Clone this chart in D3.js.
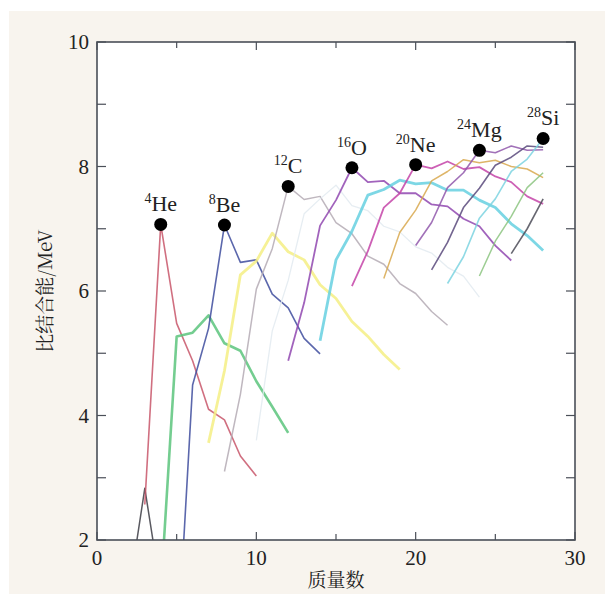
<!DOCTYPE html>
<html>
<head>
<meta charset="utf-8">
<script src="https://cdn.jsdelivr.net/npm/d3@7"></script>
<style>
  body { margin: 0; background: #fff; }
</style>
</head>
<body>
<svg id="chart" width="605" height="594"></svg>
<script>
// Binding energy per nucleon (MeV) of isotopic chains, indexed from the first mass number
const hStart = 2,  hValues  = [1.15, 2.83, 1.2];
const heStart = 3, heValues = [2.57, 7.07, 5.48, 4.88, 4.10, 3.93, 3.35, 3.03];
const liStart = 4, liValues = [1.15, 5.27, 5.33, 5.61, 5.16, 5.04, 4.55, 4.14, 3.72];
const beStart = 5, beValues = [0.0, 4.49, 5.40, 7.06, 6.46, 6.50, 5.95, 5.73, 5.24, 4.99];
const bStart = 7,  bValues  = [3.56, 4.72, 6.26, 6.48, 6.93, 6.63, 6.50, 6.10, 5.88, 5.51, 5.27, 4.98, 4.74];
const cStart = 8,  cValues  = [3.10, 4.34, 6.03, 6.68, 7.68, 7.47, 7.52, 7.10, 6.92, 6.56, 6.43, 6.12, 5.96, 5.67, 5.45];
const nStart = 10, nValues  = [3.60, 5.36, 6.17, 7.24, 7.48, 7.70, 7.37, 7.29, 7.04, 6.95, 6.71, 6.61, 6.38, 6.24, 5.90];
const oStart = 12, oValues  = [4.88, 5.81, 7.05, 7.46, 7.98, 7.75, 7.77, 7.57, 7.57, 7.39, 7.36, 7.16, 7.04, 6.73, 6.49];
const fStart = 14, fValues  = [5.20, 6.50, 6.96, 7.54, 7.63, 7.78, 7.72, 7.74, 7.62, 7.62, 7.46, 7.34, 7.08, 6.89, 6.65];
const neStart = 16, neValues = [6.08, 6.64, 7.34, 7.57, 8.03, 7.97, 8.08, 7.96, 7.99, 7.84, 7.75, 7.52, 7.40];
const naStart = 18, naValues = [6.20, 6.94, 7.30, 7.77, 7.92, 8.11, 8.06, 8.10, 8.00, 7.96, 7.82];
const mgStart = 20, mgValues = [6.73, 7.10, 7.66, 7.90, 8.26, 8.22, 8.33, 8.26, 8.27];
const alStart = 21, alValues = [6.34, 6.78, 7.34, 7.65, 8.02, 8.15, 8.33, 8.31];
const siStart = 22, siValues = [6.12, 6.55, 7.17, 7.48, 7.92, 8.12, 8.45];
const pStart = 24, pValues = [6.24, 6.80, 7.20, 7.66, 7.90];
const sStart = 26, sValues = [6.60, 7.00, 7.48];

const chainColors = ['#3c3c44', '#c8566a', '#5cc47c', '#3e4c9e', '#f4ee84', '#b4aab4', '#e2eaf0',
                     '#9048b0', '#66d0e0', '#c444a8', '#d8a84e', '#9058ac', '#5a4a7c', '#7cd4e0', '#8cc480', '#4c4c58'];
const chainWidths = [1.5, 1.6, 2.6, 1.6, 2.8, 1.5, 1.3, 1.8, 2.8, 1.8, 1.5, 1.6, 1.6, 1.6, 1.5, 1.6];

const markedNames = ['He', 'Be', 'C', 'O', 'Ne', 'Mg', 'Si'];
const markedMass = [4, 8, 12, 16, 20, 24, 28];
const markedEnergy = [7.07, 7.06, 7.68, 7.98, 8.03, 8.26, 8.45];

const xTicks = [0, 5, 10, 15, 20, 25, 30];
const xLabels = [0, 10, 20, 30];
const yTicks = [2, 3, 4, 5, 6, 7, 8, 9, 10];
const yLabels = [2, 4, 6, 8, 10];

const chains = [
  [hStart, hValues], [heStart, heValues], [liStart, liValues], [beStart, beValues],
  [bStart, bValues], [cStart, cValues], [nStart, nValues], [oStart, oValues],
  [fStart, fValues], [neStart, neValues], [naStart, naValues], [mgStart, mgValues],
  [alStart, alValues], [siStart, siValues], [pStart, pValues], [sStart, sValues]
].map(([start, vals]) => vals.map((v, i) => ({ a: start + i, e: v })));

const serif = '"Liberation Serif", "Times New Roman", "DejaVu Serif", serif';
const cjk = '"Noto Serif CJK SC", "Noto Sans CJK SC", sans-serif';

const svg = d3.select('#chart');
const W = 605, H = 594;
const plot = { left: 97, right: 575, top: 42, bottom: 540 };

// page background
svg.append('rect').attr('x', 9).attr('y', 11).attr('width', W - 9).attr('height', H - 11).attr('fill', '#f8f4ee');
svg.append('rect')
  .attr('x', plot.left).attr('y', plot.top)
  .attr('width', plot.right - plot.left).attr('height', plot.bottom - plot.top)
  .attr('fill', '#fff');

const x = d3.scaleLinear().domain([0, 30]).range([plot.left, plot.right]);
const y = d3.scaleLinear().domain([2, 10]).range([plot.bottom, plot.top]);

svg.append('clipPath').attr('id', 'clip')
  .append('rect')
  .attr('x', plot.left).attr('y', plot.top)
  .attr('width', plot.right - plot.left).attr('height', plot.bottom - plot.top);

const line = d3.line().x(d => x(d.a)).y(d => y(d.e));

svg.append('g').attr('clip-path', 'url(#clip)')
  .selectAll('path')
  .data(chains)
  .join('path')
  .attr('d', line)
  .attr('fill', 'none')
  .attr('stroke', (d, i) => chainColors[i])
  .attr('stroke-width', (d, i) => chainWidths[i])
  .attr('stroke-linejoin', 'round')
  .attr('opacity', 0.85);

// frame and inward ticks on all sides
const axisColor = '#4a4f58';
svg.append('rect')
  .attr('x', plot.left).attr('y', plot.top)
  .attr('width', plot.right - plot.left).attr('height', plot.bottom - plot.top)
  .attr('fill', 'none').attr('stroke', axisColor).attr('stroke-width', 1.6);

const ticks = svg.append('g').attr('stroke', axisColor).attr('stroke-width', 1.2);
xTicks.forEach(t => {
  const len = t % 10 === 0 ? 8 : 6;
  ticks.append('line').attr('x1', x(t)).attr('x2', x(t)).attr('y1', plot.bottom).attr('y2', plot.bottom - len);
  ticks.append('line').attr('x1', x(t)).attr('x2', x(t)).attr('y1', plot.top).attr('y2', plot.top + len);
});
yTicks.forEach(t => {
  ticks.append('line').attr('x1', plot.left).attr('x2', plot.left + 9).attr('y1', y(t)).attr('y2', y(t));
  ticks.append('line').attr('x1', plot.right).attr('x2', plot.right - 9).attr('y1', y(t)).attr('y2', y(t));
});

svg.append('g').selectAll('text')
  .data(xLabels).join('text')
  .attr('x', d => x(d)).attr('y', plot.bottom + 25)
  .attr('text-anchor', 'middle').attr('font-size', 21)
  .attr('font-family', serif).attr('fill', '#222')
  .text(d => d);

svg.append('g').selectAll('text')
  .data(yLabels).join('text')
  .attr('x', plot.left - 8).attr('y', d => y(d) + 7)
  .attr('text-anchor', 'end').attr('font-size', 21)
  .attr('font-family', serif).attr('fill', '#222')
  .text(d => d);

// axis titles
svg.append('text')
  .attr('x', (plot.left + plot.right) / 2).attr('y', 587)
  .attr('text-anchor', 'middle').attr('font-size', 19)
  .attr('font-family', cjk).attr('fill', '#222')
  .text('质量数');

svg.append('text')
  .attr('transform', `translate(52, ${(plot.top + plot.bottom) / 2}) rotate(-90)`)
  .attr('text-anchor', 'middle').attr('font-size', 19)
  .attr('font-family', cjk).attr('fill', '#222')
  .text('比结合能/MeV');

// marked nuclei
const marks = svg.append('g');
markedMass.forEach((a, i) => {
  marks.append('circle').attr('cx', x(a)).attr('cy', y(markedEnergy[i])).attr('r', 6.5).attr('fill', '#000');
  const label = marks.append('text')
    .attr('x', x(a)).attr('y', y(markedEnergy[i]) - 13)
    .attr('text-anchor', 'middle').attr('font-size', 22)
    .attr('font-family', serif).attr('fill', '#222');
  label.append('tspan').attr('font-size', 14).attr('dy', -8).text(a);
  label.append('tspan').attr('dy', 8).text(markedNames[i]);
});
</script>
</body>
</html>
